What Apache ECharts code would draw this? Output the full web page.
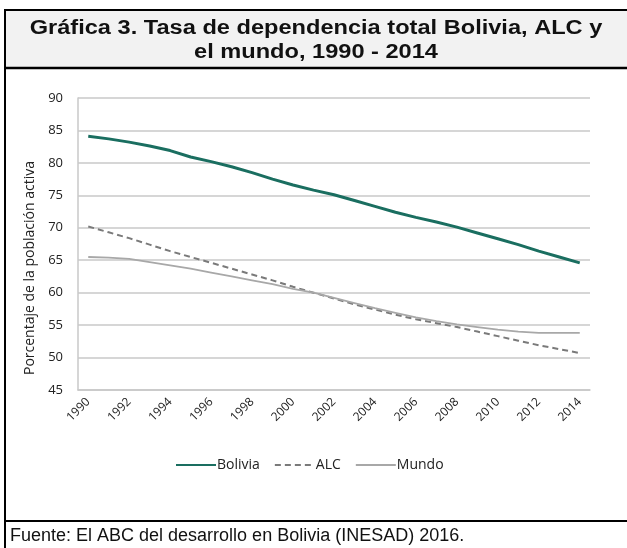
<!DOCTYPE html>
<html>
<head>
<meta charset="utf-8">
<script src="https://cdn.jsdelivr.net/npm/echarts@6/dist/echarts.min.js"></script>
<style>
  html, body { margin: 0; padding: 0; background: #fff; }
  #chart { width: 627px; height: 548px; }
</style>
</head>
<body>
<div id="chart"></div>
<script>
// datos
const years = ['1990', '1991', '1992', '1993', '1994', '1995', '1996', '1997', '1998', '1999', '2000', '2001', '2002',
  '2003', '2004', '2005', '2006', '2007', '2008', '2009', '2010', '2011', '2012', '2013', '2014']
const bolivia = [84.1, 83.7, 83.2, 82.6, 81.9, 80.9, 80.2, 79.4, 78.5, 77.5, 76.6, 75.8, 75.1,
  74.2, 73.3, 72.4, 71.6, 70.9, 70.1, 69.2, 68.3, 67.4, 66.4, 65.5, 64.6]
const alc = [70.2, 69.3, 68.4, 67.4, 66.4, 65.5, 64.6, 63.7, 62.8, 61.9, 60.9, 60.0, 59.1,
  58.2, 57.4, 56.6, 55.9, 55.3, 54.7, 54.0, 53.3, 52.6, 51.9, 51.3, 50.7]
const mundo = [65.5, 65.4, 65.2, 64.7, 64.2, 63.7, 63.1, 62.5, 61.9, 61.3, 60.6, 60.0, 59.2,
  58.4, 57.6, 56.9, 56.2, 55.6, 55.1, 54.7, 54.3, 54.0, 53.8, 53.8, 53.8]
const yTicks = { min: 45, max: 90, interval: 5 }

const chart = echarts.init(document.getElementById('chart'))

const labelFont = '"Open Sans", "DejaVu Sans", sans-serif'
const titleFont = 'bold 20px "Liberation Sans", Arial, sans-serif'

const option = {
  animation: false,
  backgroundColor: '#fff',
  graphic: [
    // recuadro y título
    { type: 'rect', z: -1, shape: { x: 5, y: 10, width: 630, height: 57 }, style: { fill: '#f2f2f2' } },
    { type: 'line', shape: { x1: 4, y1: 10, x2: 627, y2: 10 }, style: { stroke: '#000', lineWidth: 2 } },
    { type: 'line', shape: { x1: 5, y1: 10, x2: 5, y2: 548 }, style: { stroke: '#000', lineWidth: 2 } },
    { type: 'line', shape: { x1: 4, y1: 68, x2: 627, y2: 68 }, style: { stroke: '#000', lineWidth: 2.5 } },
    { type: 'line', shape: { x1: 4, y1: 521, x2: 627, y2: 521 }, style: { stroke: '#000', lineWidth: 2 } },
    {
      type: 'text', x: 316, y: 28, scaleX: 1.18,
      style: {
        text: 'Gráfica 3. Tasa de dependencia total Bolivia, ALC y',
        font: titleFont, fill: '#111', align: 'center', verticalAlign: 'middle'
      }
    },
    {
      type: 'text', x: 316, y: 52, scaleX: 1.18,
      style: {
        text: 'el mundo, 1990 - 2014',
        font: titleFont, fill: '#111', align: 'center', verticalAlign: 'middle'
      }
    },
    {
      type: 'text', x: 10, y: 536,
      style: {
        text: 'Fuente: El ABC del desarrollo en Bolivia (INESAD) 2016.',
        font: '18px "Liberation Sans", Arial, sans-serif',
        fill: '#111', verticalAlign: 'middle'
      }
    }
  ],
  legend: {
    data: ['Bolivia', 'ALC', 'Mundo'],
    top: 453,
    left: 170,
    itemWidth: 40,
    itemHeight: 2,
    itemGap: 14,
    itemStyle: { opacity: 0 },
    textStyle: { fontFamily: labelFont, fontSize: 14, color: '#222', padding: [0, 0, 0, -4] }
  },
  grid: { left: 78, right: 37, top: 98, bottom: 158 },
  xAxis: {
    type: 'category',
    data: years,
    boundaryGap: true,
    axisLine: { lineStyle: { color: '#c8c8c8', width: 1.5 } },
    axisTick: { show: false },
    axisLabel: {
      interval: 1,
      rotate: 45,
      margin: 10,
      fontFamily: labelFont,
      fontSize: 12,
      color: '#222'
    }
  },
  yAxis: {
    type: 'value',
    min: yTicks.min,
    max: yTicks.max,
    interval: yTicks.interval,
    name: 'Porcentaje de la población activa',
    nameLocation: 'middle',
    nameGap: 27,
    nameTextStyle: { fontFamily: labelFont, fontSize: 14, color: '#222', padding: [0, 48, 0, 0] },
    axisLine: { show: true, lineStyle: { color: '#c8c8c8', width: 1.5 } },
    axisTick: { show: false },
    axisLabel: { margin: 15, fontFamily: labelFont, fontSize: 13, color: '#222' },
    splitLine: { lineStyle: { color: '#c8c8c8', width: 1.5 } }
  },
  series: [
    {
      name: 'Bolivia',
      type: 'line',
      data: bolivia,
      symbol: 'none',
      color: '#1a6e60',
      lineStyle: { width: 3, color: '#1a6e60' }
    },
    {
      name: 'ALC',
      type: 'line',
      data: alc,
      symbol: 'none',
      color: '#7a7a7a',
      lineStyle: { width: 2, type: [6, 4], color: '#7a7a7a' }
    },
    {
      name: 'Mundo',
      type: 'line',
      data: mundo,
      symbol: 'none',
      color: '#a8a8a8',
      lineStyle: { width: 1.8, color: '#a8a8a8' }
    }
  ]
}

chart.setOption(option)
</script>
</body>
</html>
